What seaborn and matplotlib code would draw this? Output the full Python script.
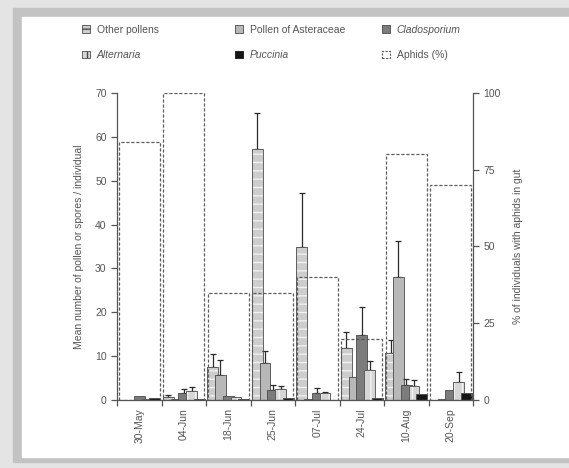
import matplotlib

matplotlib.use("Agg")
import matplotlib.pyplot as plt
import numpy as np
import pandas as pd
import seaborn as sns
from matplotlib.patches import Patch, Rectangle

# ---- data ----
dates = ["30-May", "04-Jun", "18-Jun", "25-Jun", "07-Jul", "24-Jul", "10-Aug", "20-Sep"]
series = ["Other pollens", "Pollen of Asteraceae", "Cladosporium", "Alternaria", "Puccinia"]

other = [0.0, 0.6, 7.5, 57.3, 34.8, 11.8, 10.7, 0.1]
other_err = [0.0, 0.6, 2.9, 8.1, 12.5, 3.7, 3.0, 0.0]
aster = [0.1, 0.3, 5.7, 8.5, 0.2, 5.3, 28.0, 0.3]
aster_err = [0.0, 0.0, 3.5, 2.6, 0.0, 0.0, 8.2, 0.0]
clado = [0.8, 1.6, 1.0, 2.3, 1.5, 14.8, 3.4, 2.2]
clado_err = [0.0, 1.0, 0.0, 1.2, 1.2, 6.3, 1.4, 0.0]
altern = [0.3, 2.0, 0.7, 2.6, 1.5, 6.8, 3.3, 4.2]
altern_err = [0.0, 1.0, 0.0, 0.6, 0.4, 2.1, 1.2, 2.1]
puccinia = [0.5, 0.2, 0.3, 0.4, 0.1, 0.5, 1.3, 1.5]
puccinia_err = [0.0, 0.0, 0.0, 0.0, 0.0, 0.0, 0.0, 0.0]

aphids = [84, 100, 35, 35, 40, 20, 80, 70]

values = [other, aster, clado, altern, puccinia]
errors = [other_err, aster_err, clado_err, altern_err, puccinia_err]

face_colors = ["#cdcdcd", "#b8b8b8", "#7c7c7c", "#d6d6d6", "#151515"]
hatches = ["--", None, None, "||", None]
edge_col = "#4a4a4a"

df = pd.DataFrame(
    [
        {"date": d, "series": s, "value": v}
        for s, vals in zip(series, values)
        for d, v in zip(dates, vals)
    ]
)
df_aph = pd.DataFrame({"date": dates, "pct": aphids})

# ---- style ----
sns.set_style("ticks")
plt.rcParams["font.family"] = ["Liberation Sans", "DejaVu Sans"]
plt.rcParams["hatch.linewidth"] = 1.0
text_col = "#555555"
line_col = "#555555"

fig = plt.figure(figsize=(5.69, 4.68), dpi=100, facecolor="#e4e4e4")
W, H = 569, 468
# photo-like frame
fig.patches.append(Rectangle((13 / W, 1 - 462 / H), 1, (462 - 8) / H,
                             transform=fig.transFigure, color="#c3c3c3", zorder=-2))
fig.patches.append(Rectangle((22 / W, 1 - 457 / H), 1, (457 - 17) / H,
                             transform=fig.transFigure, color="white", zorder=-1))

ax = fig.add_axes([117 / W, 1 - 400 / H, (473 - 117) / W, (400 - 93) / H])
ax.patch.set_visible(False)
ax2 = ax.twinx()

# ---- pollen / spore bars ----
sns.barplot(
    data=df, x="date", y="value", hue="series", order=dates, hue_order=series,
    palette=face_colors, width=0.875, dodge=True, errorbar=None, saturation=1,
    edgecolor=edge_col, linewidth=0.6, legend=False, ax=ax,
)

bar_w = 0.24
bar_containers = list(ax.containers)
for k, cont in enumerate(bar_containers):
    xs, hs = [], []
    for p in cont.patches:
        cx = p.get_x() + p.get_width() / 2
        p.set_x(cx - bar_w / 2)
        p.set_width(bar_w)
        p.set_zorder(2 + k * 0.1)
        xs.append(cx)
        hs.append(p.get_height())
        if hatches[k]:
            p.set_hatch(hatches[k])
            p.set_edgecolor("#f2f2f2")
            p.set_linewidth(0)
            ax.add_patch(Rectangle((p.get_x(), 0), p.get_width(), p.get_height(),
                                   fill=False, edgecolor=edge_col, lw=0.6,
                                   zorder=2 + k * 0.1 + 0.05))
    err = np.array(errors[k])
    m = err > 0
    ax.errorbar(np.array(xs)[m], np.array(hs)[m],
                yerr=[np.zeros(m.sum()), err[m]], fmt="none", ecolor="#2a2a2a",
                elinewidth=0.9, capsize=2.5, capthick=0.9, zorder=1.9 + k * 0.1)

# ---- aphids (%) dashed boxes ----
sns.barplot(data=df_aph, x="date", y="pct", order=dates, fill=False, width=0.93,
            errorbar=None, color="#5a5a5a", linewidth=0.9, ax=ax2)
for p in ax2.patches:
    p.set_linestyle((0, (2.5, 1.5)))

# ---- axes ----
ax.set_xlim(-0.5, 7.5)
ax.set_ylim(0, 70)
ax2.set_ylim(0, 100)
ax.set_yticks(range(0, 71, 10))
ax2.set_yticks([0, 25, 50, 75, 100])
ax.set_xticks(range(len(dates)))
ax.set_xticklabels(dates, rotation=90)
ax.set_xticks(np.arange(-0.5, 8, 1), minor=True)
ax.tick_params(axis="x", which="major", length=0, pad=6)
ax.tick_params(axis="x", which="minor", length=4, width=0.9, color=line_col)
for a in (ax, ax2):
    a.tick_params(axis="both", labelsize=7.5, labelcolor=text_col)
    a.tick_params(axis="y", length=4, width=0.9, color=line_col)
    a.set_xlabel("")
    for s in a.spines.values():
        s.set_color(line_col)
        s.set_linewidth(0.9)
    a.spines["top"].set_visible(False)
ax.spines["right"].set_visible(False)
ax2.spines["left"].set_visible(False)
ax2.spines["bottom"].set_visible(False)

ax.set_ylabel("Mean number of pollen or spores / individual", fontsize=7.5,
              color=text_col, labelpad=8)
ax2.set_ylabel("% of individuals with aphids in gut", fontsize=7.5,
               color=text_col, labelpad=9)

# ---- legend (three columns, two rows) ----
handles = [
    Patch(facecolor=face_colors[0], edgecolor=edge_col, hatch="--", lw=0.6),
    Patch(facecolor=face_colors[3], edgecolor=edge_col, hatch="||", lw=0.6),
    Patch(facecolor=face_colors[1], edgecolor=edge_col, lw=0.6),
    Patch(facecolor=face_colors[4], edgecolor="#151515", lw=0.6),
    Patch(facecolor=face_colors[2], edgecolor=edge_col, lw=0.6),
    Patch(facecolor="none", edgecolor="#5a5a5a", lw=0.8, linestyle=(0, (2, 1.2))),
]
labels = ["Other pollens", "Alternaria", "Pollen of Asteraceae", "Puccinia",
          "Cladosporium", "Aphids (%)"]
italic = {"Alternaria", "Puccinia", "Cladosporium"}
col_x = [82, 235, 382]
for c in range(3):
    leg = fig.legend(handles[2 * c:2 * c + 2], labels[2 * c:2 * c + 2],
                     loc="upper left", bbox_to_anchor=(col_x[c] / W, 1 - 25 / H),
                     frameon=False, borderpad=0, borderaxespad=0, fontsize=7.5,
                     handlelength=0.8, handleheight=0.8, handletextpad=0.6,
                     labelspacing=1.45)
    for t in leg.get_texts():
        t.set_color(text_col)
        if t.get_text() in italic:
            t.set_style("italic")

fig.savefig("out.png", dpi=100, facecolor=fig.get_facecolor())
